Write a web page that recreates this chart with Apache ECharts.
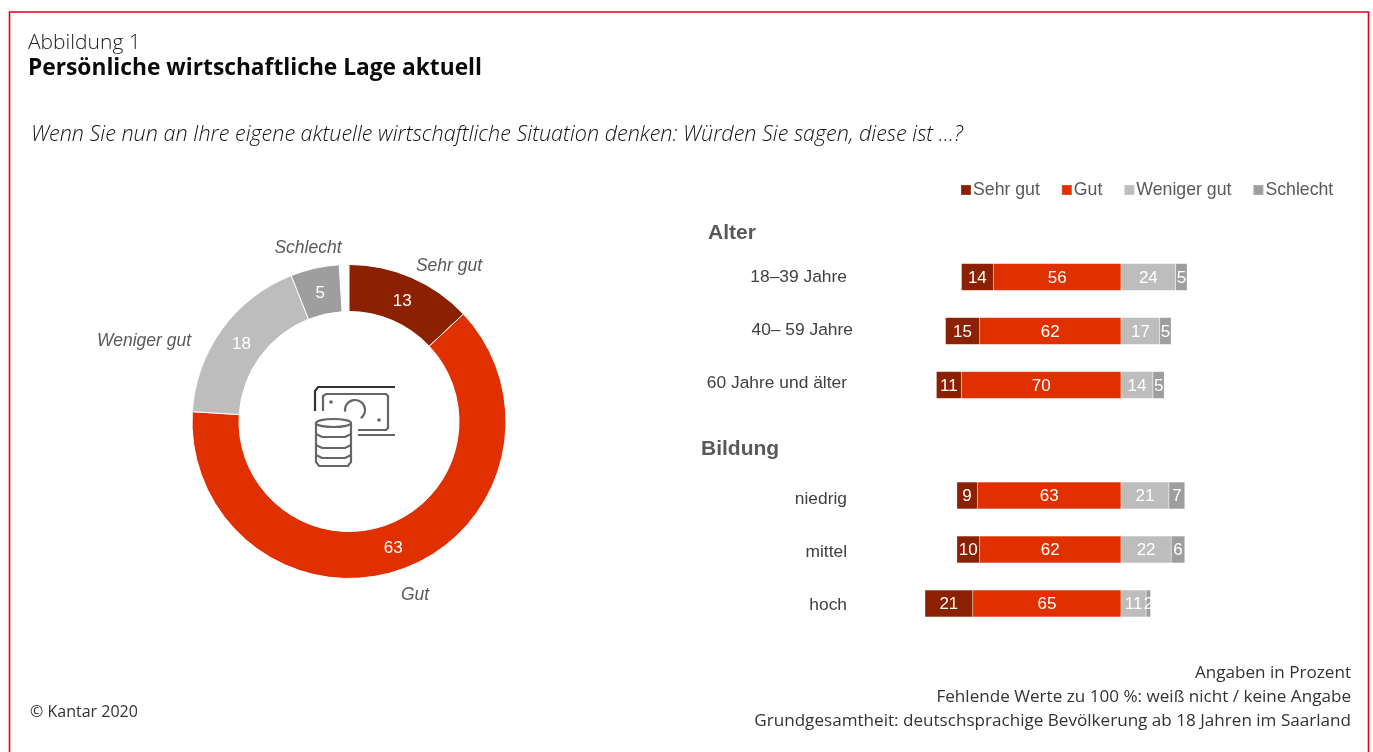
<!DOCTYPE html>
<html lang="de">
<head>
<meta charset="utf-8">
<title>Persönliche wirtschaftliche Lage aktuell</title>
<script src="https://cdn.jsdelivr.net/npm/echarts@6/dist/echarts.min.js"></script>
<style>
  html, body { margin: 0; padding: 0; background: #fff; }
  #chart { width: 1373px; height: 752px; }
</style>
</head>
<body>
<div id="chart"></div>
<script>
// Antwortkategorien und ihre Farben
const categories = ['Sehr gut', 'Gut', 'Weniger gut', 'Schlecht'];
const colors = ['#8b2100', '#e03000', '#bdbdbd', '#9e9e9e'];

// Gesamtergebnis (Ring); der Rest zu 100 bleibt als Lücke frei
const totalValues = [13, 63, 18, 5];
const totalMissing = 1;

// Gruppen nach Alter
const ageGroups = ['18–39 Jahre', '40– 59 Jahre', '60 Jahre und älter'];
const ageSehrGut = [14, 15, 11];
const ageGut = [56, 62, 70];
const ageWeniger = [24, 17, 14];
const ageSchlecht = [5, 5, 5];

// Gruppen nach Bildung
const eduGroups = ['niedrig', 'mittel', 'hoch'];
const eduSehrGut = [9, 10, 21];
const eduGut = [63, 62, 65];
const eduWeniger = [21, 22, 11];
const eduSchlecht = [7, 6, 2];

const SANS = '"Liberation Sans", Arial, sans-serif';
const HEAD = '"Open Sans", "Noto Sans", sans-serif';

// Positive Antworten laufen von der Nulllinie nach links, negative nach rechts;
// ECharts stapelt beide Vorzeichen im selben Stapel getrennt
function barSeries(gridIndex, sehrGut, gut, weniger, schlecht) {
  const make = (idx, values, sign) => ({
    type: 'bar',
    name: categories[idx],
    xAxisIndex: gridIndex,
    yAxisIndex: gridIndex,
    stack: 'gruppe' + gridIndex,
    barWidth: 27,
    data: values.map(v => sign * v),
    itemStyle: { color: colors[idx], borderColor: 'rgba(255,255,255,0.15)', borderWidth: 0.5 },
    label: {
      show: true, position: 'inside', color: '#fff',
      fontFamily: SANS, fontSize: 17, offset: [0, 1],
      formatter: p => Math.abs(p.value)
    },
    silent: true
  });
  return [
    make(1, gut, -1),
    make(0, sehrGut, -1),
    make(2, weniger, 1),
    make(3, schlecht, 1)
  ];
}

function valueAxis(gridIndex) {
  return { type: 'value', gridIndex, min: -100, max: 100, show: false };
}

// Jede Zeile bekommt einen eigenen Rich-Text-Stil, der ihren Abstand zum Balken festlegt
function groupAxis(gridIndex, groups, labelPadding) {
  const rich = {};
  labelPadding.forEach((padding, i) => {
    rich['z' + i] = { padding, color: '#404040', fontFamily: SANS, fontSize: 17.4 };
  });
  return {
    type: 'category', gridIndex, inverse: true,
    data: groups,
    axisLine: { show: false, onZero: false },
    axisTick: { show: false },
    splitLine: { show: false },
    axisLabel: {
      margin: 40, align: 'right', rich,
      formatter: (value, index) => '{z' + index + '|' + value + '}'
    }
  };
}

function text(x, y, str, font, fill, align) {
  return {
    type: 'text', silent: true,
    style: { x, y, text: str, font, fill, textAlign: align || 'left', textVerticalAlign: 'middle' }
  };
}

// Beschriftung der Ringsegmente außerhalb des Rings
const outerLabelAnchor = {
  'Sehr gut': [449, 266], 'Gut': [415, 595], 'Weniger gut': [144, 341], 'Schlecht': [308, 248]
};

// Feinkorrektur der Werte innerhalb des Rings
const innerLabelShift = [[-1, 5], [-2, -2], [3, 3], [1, 5]];

// Symbol in der Ringmitte: Geldschein mit Münzstapel
const iconStroke = { stroke: '#666', fill: 'none', lineWidth: 2.2 };
const icon = {
  type: 'group', silent: true,
  children: [
    { type: 'polyline', shape: { points: [[315, 411], [315, 391], [318, 387], [395, 387]] }, style: { stroke: '#333', fill: 'none', lineWidth: 2.2 } },
    { type: 'polyline', shape: { points: [[323, 411], [323, 396], [326, 394], [386, 394], [388, 396], [388, 428], [386, 430], [358, 430]] }, style: iconStroke },
    { type: 'arc', shape: { cx: 355, cy: 410, r: 10, startAngle: Math.PI * 0.95, endAngle: Math.PI * 0.3 }, style: iconStroke },
    { type: 'circle', shape: { cx: 331, cy: 402, r: 1.8 }, style: { fill: '#666' } },
    { type: 'circle', shape: { cx: 379, cy: 420, r: 1.8 }, style: { fill: '#666' } },
    { type: 'line', shape: { x1: 358, y1: 435, x2: 395, y2: 435 }, style: iconStroke },
    { type: 'ellipse', shape: { cx: 333.5, cy: 423, rx: 17.5, ry: 4 }, style: iconStroke },
    { type: 'polyline', shape: { points: [[316, 423], [316, 462], [319, 466], [348, 466], [351, 462], [351, 423]] }, style: iconStroke },
    { type: 'polyline', shape: { points: [[316, 434], [322, 437], [345, 437], [351, 434]] }, style: iconStroke },
    { type: 'polyline', shape: { points: [[316, 445], [322, 448], [345, 448], [351, 445]] }, style: iconStroke },
    { type: 'polyline', shape: { points: [[316, 455], [322, 458], [345, 458], [351, 455]] }, style: iconStroke }
  ]
};

const gapSlice = {
  name: 'keine Angabe', value: totalMissing,
  itemStyle: { color: 'transparent', borderWidth: 0 },
  label: { show: false }
};

const option = {
  animation: false,
  backgroundColor: '#fff',
  title: [
    { text: 'Abbildung 1', left: 28, top: 33, padding: 0, textStyle: { fontFamily: HEAD, fontWeight: 300, fontSize: 21, color: '#222' } },
    { text: 'Persönliche wirtschaftliche Lage aktuell', left: 28, top: 57, padding: 0, textStyle: { fontFamily: HEAD, fontWeight: 700, fontSize: 22.75, color: '#0a0a0a' } },
    { text: 'Wenn Sie nun an Ihre eigene aktuelle wirtschaftliche Situation denken: Würden Sie sagen, diese ist …?', left: 31, top: 124, padding: 0, textStyle: { fontFamily: HEAD, fontStyle: 'italic', fontWeight: 300, fontSize: 21.55, color: '#111' } }
  ],
  legend: {
    data: categories, left: 955, top: 176, icon: 'rect',
    itemWidth: 10, itemHeight: 10, itemGap: 21, selectedMode: false,
    textStyle: { fontFamily: SANS, fontSize: 17.7, color: '#595959', padding: [0, 0, 0, -3] }
  },
  grid: [
    { left: 893, width: 456, top: 250, height: 162 },
    { left: 893, width: 456, top: 468.5, height: 162 }
  ],
  xAxis: [valueAxis(0), valueAxis(1)],
  yAxis: [
    groupAxis(0, ageGroups, [[0, 6, 0, 0], [0, 0, 2, 0], [0, 6, 4, 0]]),
    groupAxis(1, eduGroups, [[8, 6, 0, 0], [6, 6, 0, 0], [4, 6, 0, 0]])
  ],
  series: [
    {
      type: 'pie', center: [349, 421.5], radius: [110, 157], startAngle: 90,
      silent: true,
      data: categories.map((name, i) => ({ name, value: totalValues[i], itemStyle: { color: colors[i] } })).concat(gapSlice),
      itemStyle: { borderColor: '#fff', borderWidth: 1 },
      label: { show: true, position: 'inside', formatter: '{c}', color: '#fff', fontFamily: SANS, fontSize: 17 },
      labelLine: { show: false },
      labelLayout: params => {
        const shift = innerLabelShift[params.dataIndex];
        return shift ? { dx: shift[0], dy: shift[1] } : {};
      }
    },
    {
      type: 'pie', center: [349, 421.5], radius: [110, 157], startAngle: 90,
      silent: true,
      data: categories.map((name, i) => ({ name, value: totalValues[i] })).concat(gapSlice),
      itemStyle: { color: 'transparent' },
      label: {
        show: true, position: 'outside', formatter: '{b}',
        color: '#595959', fontFamily: SANS, fontStyle: 'italic', fontSize: 17.5
      },
      labelLine: { show: false },
      labelLayout: params => {
        const anchor = outerLabelAnchor[categories[params.dataIndex]];
        return anchor ? { x: anchor[0], y: anchor[1], align: 'center', verticalAlign: 'middle' } : {};
      }
    },
    ...barSeries(0, ageSehrGut, ageGut, ageWeniger, ageSchlecht),
    ...barSeries(1, eduSehrGut, eduGut, eduWeniger, eduSchlecht)
  ],
  graphic: [
    { type: 'rect', silent: true, shape: { x: 9.5, y: 12, width: 1359, height: 760 }, style: { fill: 'none', stroke: '#e2001a', lineWidth: 1.6 } },
    icon,
    text(708, 233, 'Alter', 'bold 21px ' + SANS, '#595959'),
    text(701, 449, 'Bildung', 'bold 21px ' + SANS, '#595959'),
    text(30, 712, '© Kantar 2020', '16px ' + HEAD, '#333'),
    text(1351, 673, 'Angaben in Prozent', '17.1px ' + HEAD, '#333', 'right'),
    text(1351, 697, 'Fehlende Werte zu 100 %: weiß nicht / keine Angabe', '17.1px ' + HEAD, '#333', 'right'),
    text(1351, 721, 'Grundgesamtheit: deutschsprachige Bevölkerung ab 18 Jahren im Saarland', '17.1px ' + HEAD, '#333', 'right')
  ]
};

echarts.init(document.getElementById('chart')).setOption(option);
</script>
</body>
</html>
